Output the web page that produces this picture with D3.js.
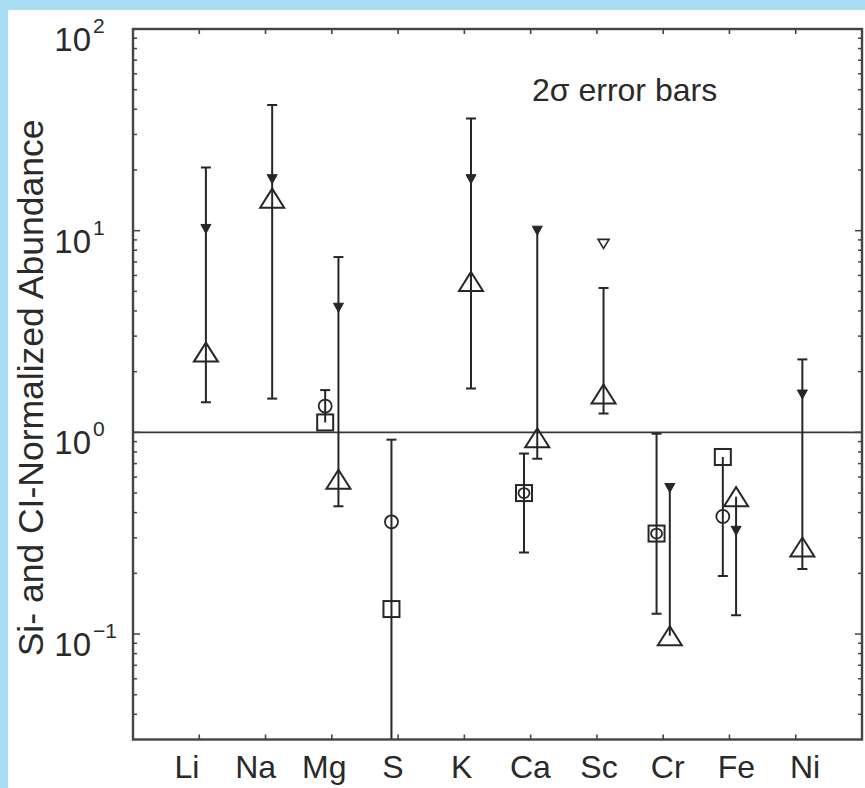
<!DOCTYPE html>
<html>
<head>
<meta charset="utf-8">
<script src="https://cdn.jsdelivr.net/npm/d3@7"></script>
<style>
  html, body { margin: 0; padding: 0; background: #a9ddf3; }
  svg { display: block; }
  text { font-family: "Liberation Sans", Arial, Helvetica, sans-serif; fill: #2a2a2a; }
</style>
</head>
<body>
<svg id="chart" width="865" height="788"></svg>
<script>
// ---- data ----
const elements = ["Li", "Na", "Mg", "S", "K", "Ca", "Sc", "Cr", "Fe", "Ni"];

// open up-triangles with their 2σ bars (drawn just right of each tick)
const triValues = [2.5, 14.5, 0.585, null, 5.6, 0.94, 1.55, 0.098, 0.48, 0.27];
const triLow    = [1.41, 1.47, 0.43, null, 1.65, 0.74, 1.24, 0.098, 0.124, 0.21];
const triHigh   = [20.6, 42, 7.4, null, 36, 10, 5.2, 0.53, 0.48, 2.3];

// downward markers in the same column (Sc one is open)
const downValues = [10.2, 18, 4.15, null, 18, 10, 8.6, 0.53, 0.325, 1.54];
const downFilled = [true, true, true, null, true, true, false, true, true, true];

// circles / squares with their bars (drawn just left of each tick)
const circleValues = [null, null, 1.35, 0.36, null, 0.50, null, 0.315, 0.383, null];
const squareValues = [null, null, 1.12, 0.133, null, 0.50, null, 0.315, 0.755, null];
const boxLow       = [null, null, 1.12, 0.01, null, 0.254, null, 0.126, 0.194, null];
const boxHigh      = [null, null, 1.62, 0.92, null, 0.785, null, 0.985, 0.755, null];

const yMajor = [0.1, 1, 10, 100];
const yMajorExp = ["\u22121", "0", "1", "2"];
const noteText = "2\u03c3 error bars";
const yTitle = "Si- and CI-Normalized Abundance";

// ---- layout ----
const svg = d3.select("#chart");
const M = { left: 133, right: 862, top: 29, bottom: 739.5 };
const INK = "#262626";

svg.append("rect").attr("x", 8).attr("y", 10).attr("width", 857).attr("height", 778).attr("fill", "#fff");

const x = d3.scaleLinear().domain([0, elements.length + 1]).range([M.left, M.right]);
const y = d3.scaleLog().domain([0.03, 100]).range([M.bottom, M.top]);
const xLab = d3.scalePoint().domain(elements).range([187, 805]);
const OFF = 0.1; // horizontal shift of the two groups

svg.append("clipPath").attr("id", "plotClip")
  .append("rect").attr("x", M.left).attr("y", M.top)
  .attr("width", M.right - M.left).attr("height", M.bottom - M.top);

const plot = svg.append("g").attr("clip-path", "url(#plotClip)");

// reference line at 1
plot.append("line")
  .attr("x1", M.left).attr("x2", M.right)
  .attr("y1", y(1)).attr("y2", y(1))
  .attr("stroke", "#383838").attr("stroke-width", 1.6);

// ---- axes frame and ticks ----
const axes = svg.append("g").attr("stroke", "#444");
axes.append("rect")
  .attr("x", M.left).attr("y", M.top)
  .attr("width", M.right - M.left).attr("height", M.bottom - M.top)
  .attr("fill", "none").attr("stroke-width", 2.4);

elements.forEach((e, i) => {
  const xi = x(i + 1);
  axes.append("line").attr("x1", xi).attr("x2", xi).attr("y1", M.bottom).attr("y2", M.bottom - 5).attr("stroke-width", 1.6);
  axes.append("line").attr("x1", xi).attr("x2", xi).attr("y1", M.top).attr("y2", M.top + 5).attr("stroke-width", 1.6);
});

y.ticks().forEach(t => {
  const major = yMajor.some(m => Math.abs(m - t) / m < 1e-6);
  const len = major ? 7 : 4;
  const yy = y(t);
  if (yy > M.bottom - 0.5 || yy < M.top + 0.5) return;
  axes.append("line").attr("x1", M.left).attr("x2", M.left + len).attr("y1", yy).attr("y2", yy).attr("stroke-width", 1.5);
  axes.append("line").attr("x1", M.right).attr("x2", M.right - len).attr("y1", yy).attr("y2", yy).attr("stroke-width", 1.5);
});

// y tick labels 10^n
yMajor.forEach((v, i) => {
  const yy = y(v);
  svg.append("text").attr("x", 91).attr("y", yy + 22)
    .attr("text-anchor", "end").attr("font-size", 33).text("10");
  svg.append("text").attr("x", 93).attr("y", yy + 4)
    .attr("font-size", 21).text(yMajorExp[i]);
});

// x tick labels
svg.selectAll("text.xlab").data(elements).join("text")
  .attr("class", "xlab")
  .attr("x", d => xLab(d)).attr("y", 778)
  .attr("text-anchor", "middle").attr("font-size", 32)
  .text(d => d);

// y title
svg.append("text")
  .attr("transform", "translate(43,388) rotate(-90)")
  .attr("text-anchor", "middle").attr("font-size", 35.5)
  .text(yTitle);

// note
svg.append("text").attr("x", 532).attr("y", 101).attr("font-size", 32).text(noteText);

// ---- marks ----
const near = (a, b) => a != null && b != null && Math.abs(Math.log10(a) - Math.log10(b)) < 0.02;
const CAP = 10;

function errBar(xi, lo, hi, markers) {
  const g = plot.append("g").attr("stroke", INK).attr("stroke-width", 2).attr("fill", "none");
  g.append("line").attr("x1", xi).attr("x2", xi).attr("y1", y(lo)).attr("y2", y(hi));
  [lo, hi].forEach(v => {
    if (markers.some(m => near(m, v))) return;
    g.append("line").attr("x1", xi - CAP / 2).attr("x2", xi + CAP / 2).attr("y1", y(v)).attr("y2", y(v));
  });
}

const triUp = (w, h) => `M0,${-h / 2}L${w / 2},${h / 2}L${-w / 2},${h / 2}Z`;
const triDown = (w, h) => `M${-w / 2},${-h / 2}L${w / 2},${-h / 2}L0,${h / 2}Z`;

elements.forEach((e, i) => {
  const xr = x(i + 1 + OFF);
  const xl = x(i + 1 - OFF);

  // right column: bar, down marker, open triangle
  if (triLow[i] != null) errBar(xr, triLow[i], triHigh[i], [triValues[i], downValues[i]]);
  if (downValues[i] != null) {
    const filled = downFilled[i];
    plot.append("path")
      .attr("d", filled ? triDown(10, 9) : triDown(11, 9))
      .attr("transform", `translate(${xr},${y(downValues[i])})`)
      .attr("fill", filled ? INK : "none")
      .attr("stroke", INK).attr("stroke-width", filled ? 1 : 1.6);
  }
  if (triValues[i] != null) {
    plot.append("path")
      .attr("d", triUp(24, 19))
      .attr("transform", `translate(${xr},${y(triValues[i])})`)
      .attr("fill", "none").attr("stroke", INK).attr("stroke-width", 2);
  }

  // left column: bar, square, circle
  if (boxLow[i] != null) errBar(xl, boxLow[i], boxHigh[i], [squareValues[i], circleValues[i]]);
  if (squareValues[i] != null) {
    plot.append("rect")
      .attr("x", xl - 8).attr("y", y(squareValues[i]) - 8)
      .attr("width", 16).attr("height", 16)
      .attr("fill", "none").attr("stroke", INK).attr("stroke-width", 2);
  }
  if (circleValues[i] != null) {
    const inBox = near(circleValues[i], squareValues[i]);
    plot.append("ellipse")
      .attr("cx", xl).attr("cy", y(circleValues[i]))
      .attr("rx", inBox ? 5.5 : 6.5).attr("ry", inBox ? 5 : 6.5)
      .attr("fill", "none").attr("stroke", INK).attr("stroke-width", 1.8);
  }
});
</script>
</body>
</html>
